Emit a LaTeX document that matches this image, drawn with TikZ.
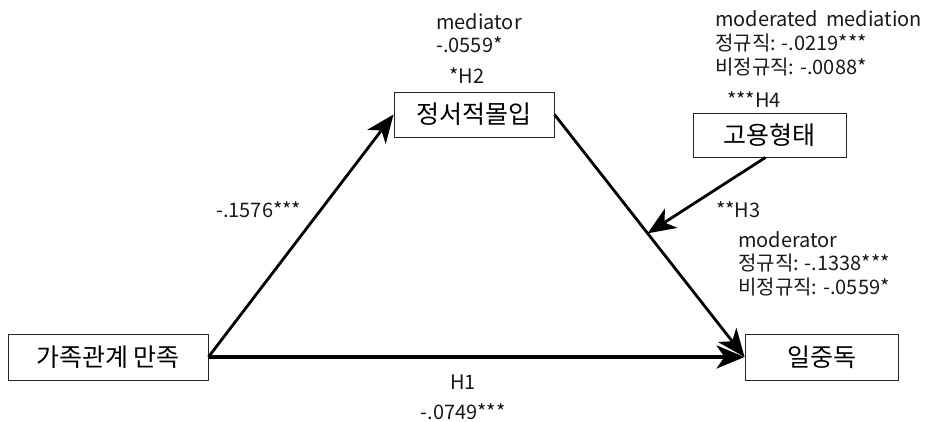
\documentclass[tikz,border=0pt]{standalone}
\usepackage{fontspec}
\setmainfont{Noto Sans CJK KR}
\usetikzlibrary{arrows.meta,calc}
\tikzset{
  box/.style={draw=black!85,line width=0.9pt,fill=white,inner sep=0pt,font=\fontsize{25}{29}\selectfont},
  lbl/.style={anchor=west,inner sep=0pt,font=\fontsize{20}{24}\selectfont,text=black!90,align=left},
  conn/.style={line width=2.8pt,-{Stealth[length=28pt,width=23pt,inset=8pt]}},
}
\begin{document}
\begin{tikzpicture}[x=1pt,y=-1pt]
\useasboundingbox (0,0) rectangle (930,421);
\node[box,minimum width=200pt,minimum height=46pt] (fam) at (108,357) {가족관계 만족};
\node[box,minimum width=160pt,minimum height=45pt] (emo) at (474,114.5) {정서적몰입};
\node[box,minimum width=153pt,minimum height=44pt] (emp) at (769.5,135) {고용형태};
\node[box,minimum width=153pt,minimum height=46pt] (work) at (821.5,357) {일중독};

\coordinate (m) at ($(emo.east)!0.49!(work.west)$);
\coordinate (es) at ($(emp.south)+(-4,0)$);

\draw[conn] (fam.east) -- (emo.west);
\draw[conn] (emo.east) -- (work.west);
\draw[conn,line width=3.6pt] (fam.east) -- (work.west);
\draw[conn] (es) -- (m);

\node[lbl] (l1) at (436,22) {mediator};
\node[lbl] (l2) at (436,45) {-.0559*};
\node[lbl] (l3) at (449,76) {*H2};
\node[lbl] (l4) at (715,19) {moderated\, mediation};
\node[lbl] (l5) at (715,43) {정규직: -.0219***};
\node[lbl] (l6) at (715,67) {비정규직: -.0088*};
\node[lbl] (l7) at (727,100) {***H4};
\node[lbl] (l8) at (216,210) {-.1576***};
\node[lbl] (l9) at (716,210) {**H3};
\node[lbl] (l10) at (738,240) {moderator};
\node[lbl] (l11) at (738,263) {정규직: -.1338***};
\node[lbl] (l12) at (738,287) {비정규직: -.0559*};
\node[lbl,anchor=center] (l13) at (463,382) {H1};
\node[lbl,anchor=center] (l14) at (463,412) {-.0749***};
\end{tikzpicture}
\end{document}
